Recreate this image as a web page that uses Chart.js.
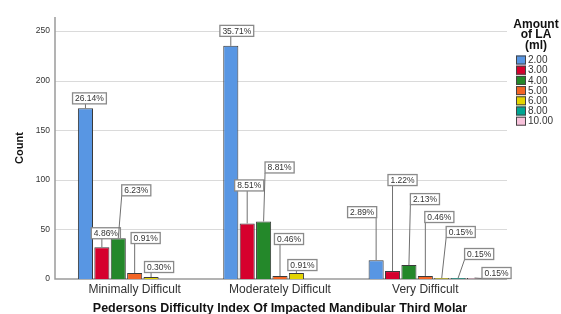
<!DOCTYPE html>
<html>
<head>
<meta charset="utf-8">
<script src="https://cdn.jsdelivr.net/npm/chart.js@4.4.1/dist/chart.umd.min.js"></script>
<style>
  html, body { margin: 0; padding: 0; background: #fff; }
  #wrap { width: 561px; height: 314px; }
</style>
</head>
<body>
<div id="wrap"><canvas id="laChart"></canvas></div>
<script>
// ---- Données ----
const categories   = ['Minimally Difficult', 'Moderately Difficult', 'Very Difficult'];
const amountLabels = ['2.00', '3.00', '4.00', '5.00', '6.00', '8.00', '10.00'];

// comptes par quantité d'anesthésique (ml), une valeur par catégorie
const count200  = [172, 235, 19];
const count300  = [32, 56, 8];
const count400  = [41, 58, 14];
const count500  = [6, 3, 3];
const count600  = [2, 6, 1];
const count800  = [null, null, 1];
const count1000 = [null, null, 1];

const yTicks = [0, 50, 100, 150, 200, 250];
const yMax   = 264;

const allCounts = [count200, count300, count400, count500, count600, count800, count1000];
const total = allCounts.flat().reduce((s, v) => s + (v || 0), 0);

// ---- Styles ----
const colors = ['#5896e3', '#d6002d', '#24882a', '#f26424', '#e3d400', '#00a592', '#f8c2db'];

// décalage (px) de chaque étiquette par rapport au sommet de sa barre
const labelOffsets = [
    [[4, -10], [6, -15], [-14, -48]],
    [[4, -14], [2, -38], [10, -91]],
    [[18, -48], [16, -54], [16, -66]],
    [[11, -35], [9, -37], [14, -59]],
    [[8, -10], [6, -8], [19, -46]],
    [null, null, [21, -24]],
    [null, null, [22, -5]]
];

// ---- Grille et axes façon SPSS (débordent un peu de la zone) ----
const spssGrid = {
    id: 'spssGrid',
    beforeDatasetsDraw(chart) {
        const { ctx, chartArea: a, scales: { y } } = chart;
        const x0 = a.left - 7, x1 = a.right + 9;
        ctx.save();
        ctx.strokeStyle = '#dadada';
        ctx.lineWidth = 1;
        yTicks.filter(v => v > 0).forEach(v => {
            const py = Math.round(y.getPixelForValue(v)) + 0.5;
            ctx.beginPath(); ctx.moveTo(x0, py); ctx.lineTo(x1, py); ctx.stroke();
        });
        ctx.strokeStyle = '#9a9a9a';
        ctx.lineWidth = 1.5;
        const yb = y.getPixelForValue(0);
        ctx.beginPath();
        ctx.moveTo(x0, y.getPixelForValue(yMax));
        ctx.lineTo(x0, yb);
        ctx.lineTo(x1, yb);
        ctx.stroke();
        ctx.restore();
    }
};

// ---- Étiquettes de pourcentage avec trait de rappel ----
const pctLabels = {
    id: 'pctLabels',
    afterDatasetsDraw(chart) {
        const { ctx } = chart;
        ctx.save();
        ctx.font = '8.5px "Liberation Sans", Arial, sans-serif';
        ctx.textAlign = 'center';
        ctx.textBaseline = 'middle';
        chart.data.datasets.forEach((ds, di) => {
            const meta = chart.getDatasetMeta(di);
            meta.data.forEach((bar, ci) => {
                const v = ds.data[ci];
                const off = labelOffsets[di][ci];
                if (v == null || !off) return;
                const txt = (v / total * 100).toFixed(2) + '%';
                const w = ctx.measureText(txt).width + 5;
                const h = 11;
                const cx = bar.x + off[0], cy = bar.y + off[1];
                const left = cx - w / 2, top = cy - h / 2;
                // trait de rappel
                const lx = Math.min(Math.max(bar.x, left), left + w);
                ctx.strokeStyle = '#707070';
                ctx.lineWidth = 1;
                ctx.beginPath();
                ctx.moveTo(bar.x, bar.y);
                ctx.lineTo(lx, top + h);
                ctx.stroke();
                // boîte
                ctx.fillStyle = '#fff';
                ctx.fillRect(left, top, w, h);
                ctx.strokeStyle = '#8a8a8a';
                ctx.lineWidth = 1.3;
                ctx.strokeRect(left, top, w, h);
                ctx.fillStyle = '#333';
                ctx.fillText(txt, cx, cy + 0.5);
            });
        });
        ctx.restore();
    }
};

// ---- Légende à droite ----
const sideLegend = {
    id: 'sideLegend',
    afterDraw(chart) {
        const { ctx, chartArea: a } = chart;
        const bx = a.right + 18;
        ctx.save();
        ctx.fillStyle = '#111';
        ctx.textAlign = 'center';
        ctx.textBaseline = 'middle';
        ctx.font = 'bold 12px "Liberation Sans", Arial, sans-serif';
        ['Amount', 'of LA', '(ml)'].forEach((t, i) => ctx.fillText(t, bx + 20, 24.5 + i * 10.5));
        ctx.textAlign = 'left';
        ctx.font = '10px "Liberation Sans", Arial, sans-serif';
        chart.data.datasets.forEach((ds, i) => {
            const yy = 60 + i * 10.2;
            ctx.fillStyle = ds.backgroundColor;
            ctx.fillRect(bx, yy - 4.5, 10, 9);
            ctx.strokeStyle = '#444';
            ctx.lineWidth = 1;
            ctx.strokeRect(bx + 0.5, yy - 4, 9, 8);
            ctx.fillStyle = '#333';
            ctx.fillText(ds.label, bx + 12, yy + 0.5);
        });
        ctx.restore();
    }
};

new Chart(document.getElementById('laChart'), {
    type: 'bar',
    data: {
        labels: categories,
        datasets: allCounts.map((d, i) => ({
            label          : amountLabels[i],
            data           : d,
            backgroundColor: colors[i],
            borderColor    : '#3a3a3a',
            borderWidth    : 1,
            categoryPercentage: 0.79,
            barPercentage  : 0.92
        }))
    },
    options: {
        responsive: true,
        maintainAspectRatio: false,
        animation: false,
        layout: { padding: { top: 15, right: 63, left: 0, bottom: 0 } },
        plugins: {
            legend : { display: false },
            tooltip: { enabled: false }
        },
        scales: {
            x: {
                grid  : { display: false, drawTicks: false },
                border: { display: false },
                ticks : {
                    color: '#333',
                    padding: 3,
                    font : { family: '"Liberation Sans", Arial, sans-serif', size: 12 }
                },
                title: {
                    display: true,
                    text   : 'Pedersons Difficulty Index Of Impacted Mandibular Third Molar',
                    color  : '#111',
                    padding: { top: 0, bottom: -2 },
                    font   : { family: '"Liberation Sans", Arial, sans-serif', size: 12.5, weight: 'bold' }
                },
                afterFit: s => { s.height = 35; }
            },
            y: {
                min: 0,
                max: yMax,
                grid  : { display: false, drawTicks: false },
                border: { display: false },
                afterBuildTicks: s => { s.ticks = yTicks.map(v => ({ value: v })); },
                ticks : {
                    color: '#333',
                    padding: 12,
                    font : { family: '"Liberation Sans", Arial, sans-serif', size: 8.5 }
                },
                title: {
                    display: true,
                    text   : 'Count',
                    color  : '#111',
                    padding: { top: 13, bottom: 0 },
                    font   : { family: '"Liberation Sans", Arial, sans-serif', size: 11, weight: 'bold' }
                },
                afterFit: s => { s.width = 62; }
            }
        }
    },
    plugins: [spssGrid, pctLabels, sideLegend]
});
</script>
</body>
</html>
